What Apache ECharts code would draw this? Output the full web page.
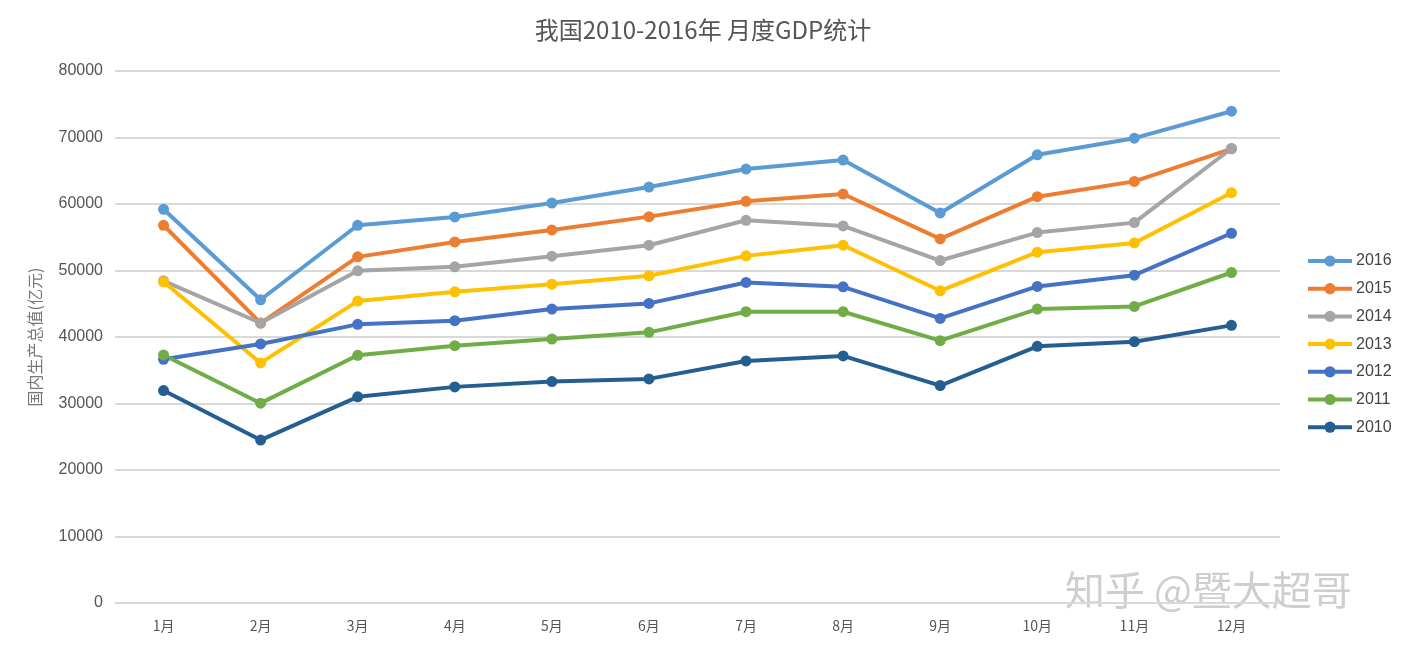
<!DOCTYPE html>
<html>
<head>
<meta charset="utf-8">
<script src="https://cdn.jsdelivr.net/npm/echarts@6/dist/echarts.min.js"></script>
<style>
html,body{margin:0;padding:0;background:#fff;}
#chart{width:1406px;height:652px;}
</style>
</head>
<body>
<div id="chart"></div>
<script>
const months = ['1月','2月','3月','4月','5月','6月','7月','8月','9月','10月','11月','12月'];
const seriesNames = ['2016','2015','2014','2013','2012','2011','2010'];
const colors = ['#5B9BD5','#ED7D31','#A5A5A5','#FFC000','#4472C4','#70AD47','#255E91'];
const gdp2016 = [59200,45600,56800,58050,60150,62550,65250,66600,58650,67400,69900,73950];
const gdp2015 = [56800,42100,52050,54300,56100,58100,60400,61500,54750,61100,63400,68300];
const gdp2014 = [48450,42100,49950,50550,52150,53800,57550,56700,51500,55700,57200,68350];
const gdp2013 = [48300,36100,45400,46800,47950,49200,52200,53800,46950,52750,54150,61700];
const gdp2012 = [36650,38950,41900,42450,44200,45050,48200,47550,42800,47600,49300,55600];
const gdp2011 = [37300,30050,37250,38700,39700,40700,43800,43800,39450,44200,44600,49700];
const gdp2010 = [31950,24500,31000,32500,33300,33700,36400,37150,32700,38600,39300,41750];
const allData = [gdp2016,gdp2015,gdp2014,gdp2013,gdp2012,gdp2011,gdp2010];

const chart = echarts.init(document.getElementById('chart'));
const font = '"Noto Sans CJK SC", "Liberation Sans", sans-serif';
chart.setOption({
  backgroundColor:'#fff',
  animation:false,
  color: colors,
  title:{
    text:'我国2010-2016年 月度GDP统计',
    left:'center', top:13,
    textStyle:{fontFamily:font, fontSize:24, fontWeight:'normal', color:'#555'}
  },
  legend:{
    orient:'vertical', left:1306, top:253, padding:0,
    itemWidth:44, itemHeight:14, itemGap:11.7,
    data: seriesNames,
    lineStyle:{width:4},
    textStyle:{fontFamily:'"Liberation Sans", sans-serif', fontSize:16, color:'#444', padding:[0,0,0,-1]}
  },
  grid:{left:115, right:126, top:71, bottom:49, containLabel:false},
  xAxis:{
    type:'category', data: months, boundaryGap:true,
    axisLine:{show:false}, axisTick:{show:false},
    axisLabel:{fontFamily:font, fontSize:14, color:'#555', margin:16}
  },
  yAxis:{
    type:'value', min:0, max:80000, interval:10000,
    name:'国内生产总值(亿元)', nameLocation:'middle', nameGap:72, nameRotate:90,
    nameTextStyle:{fontFamily:font, fontSize:16, color:'#777'},
    axisLine:{show:false}, axisTick:{show:false},
    splitLine:{lineStyle:{color:'#d9d9d9', width:2}},
    axisLabel:{fontFamily:'"Liberation Sans", sans-serif', fontSize:16, color:'#555', margin:12,
      formatter:(v)=>String(v)}
  },
  graphic:[{
    type:'text', left:1065, top:570,
    style:{text:'知乎 @暨大超哥', font:'40px "Noto Sans CJK SC", sans-serif', fill:'rgba(190,190,190,0.75)'}
  }],
  series: seriesNames.map((n,i)=>({
    name:n, type:'line', data: allData[i],
    symbol:'circle', symbolSize:11,
    lineStyle:{width:4, color:colors[i]},
    itemStyle:{color:colors[i]},
    z: 2
  }))
});
</script>
</body>
</html>
